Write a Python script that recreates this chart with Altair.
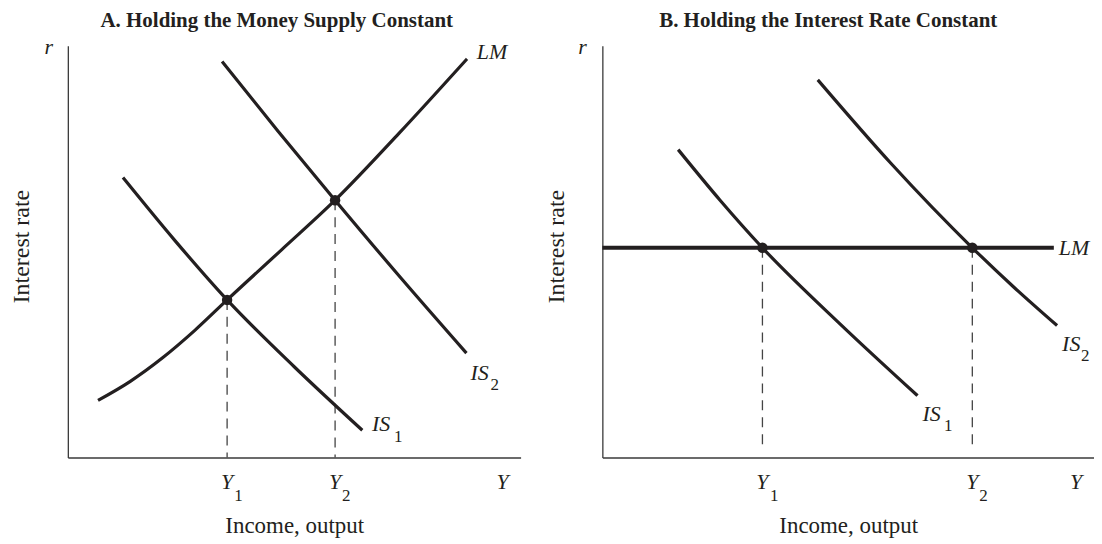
import altair as alt
import pandas as pd

FONT = "Liberation Serif"
INK = "#231f20"
AXIS_INK = "#3a3a3a"

# ---------------- Panel A: holding the money supply constant ----------------
A_LM_X = [6.67, 13.80, 20.93, 28.05, 35.18, 47.14, 59.03, 73.13, 88.17]
A_LM_Y = [13.87, 18.50, 24.21, 30.87, 38.26, 50.36, 62.47, 78.69, 96.78]
A_IS1_X = [12.18, 23.57, 35.18, 50.0, 65.04]
A_IS1_Y = [67.97, 52.78, 38.26, 22.03, 6.61]
A_IS2_X = [34.07, 46.48, 59.03, 73.57, 88.04]
A_IS2_Y = [96.13, 79.18, 62.47, 43.58, 25.35]
A_EQ_X = [35.18, 59.03]
A_EQ_Y = [38.26, 62.47]
A_DASH_END = [0.0, 0.0]

A_CURVE_TEXT = ["LM", "IS", "IS"]
A_CURVE_TX = [90.31, 88.92, 67.18]
A_CURVE_TY = [96.85, 18.89, 6.37]
A_SUB_TEXT = ["2", "1", "1", "2"]
A_SUB_TX = [93.33, 72.03, 36.78, 60.57]
A_SUB_TY = [16.46, 3.70, -10.65, -10.65]
A_AXIS_TEXT = ["r", "Y", "Y", "Y"]
A_AXIS_TX = [-4.19, 35.18, 59.03, 96.04]
A_AXIS_TY = [98.06, -7.75, -7.75, -7.75]

# ---------------- Panel B: holding the interest rate constant ----------------
B_LM_X = [0.0, 91.83]
B_LM_Y = [50.92, 50.92]
B_IS1_X = [15.42, 23.94, 32.56, 48.54, 64.10]
B_IS1_Y = [74.75, 62.47, 50.92, 32.20, 15.01]
B_IS2_X = [43.81, 58.68, 75.25, 83.77, 92.49]
B_IS2_Y = [91.69, 71.43, 50.92, 41.28, 32.03]
B_EQ_X = [32.56, 75.25]
B_EQ_Y = [50.92, 50.92]
B_DASH_END = [2.2, 2.2]

B_CURVE_TEXT = ["LM", "IS", "IS"]
B_CURVE_TX = [92.84, 93.51, 65.11]
B_CURVE_TY = [49.15, 25.74, 8.79]
B_SUB_TEXT = ["2", "1", "1", "2"]
B_SUB_TX = [97.36, 69.51, 34.08, 76.67]
B_SUB_TY = [23.32, 6.37, -10.65, -10.65]
B_AXIS_TEXT = ["r", "Y", "Y", "Y"]
B_AXIS_TX = [-4.06, 32.56, 75.25, 96.35]
B_AXIS_TY = [98.06, -7.75, -7.75, -7.75]

HEIGHT = 413

X_AXIS = alt.Axis(
    title="Income, output", labels=False, ticks=False, grid=False,
    domainColor=AXIS_INK, domainWidth=1.3,
    titleFont=FONT, titleFontSize=23, titleFontWeight="normal",
    titleColor=INK, titleBaseline="alphabetic", titleY=75,
)
Y_AXIS = alt.Axis(
    title="Interest rate", labels=False, ticks=False, grid=False,
    domainColor=AXIS_INK, domainWidth=1.3,
    titleFont=FONT, titleFontSize=24, titleFontWeight="normal",
    titleColor=INK, titleAngle=270, titleAlign="center",
    titleBaseline="middle", titleX=-46, titleY=201,
)


def xenc():
    return alt.X("x:Q", scale=alt.Scale(domain=[0, 100], nice=False, zero=False), axis=X_AXIS)


def yenc():
    return alt.Y("y:Q", scale=alt.Scale(domain=[0, 100], nice=False, zero=False), axis=Y_AXIS)


def curve_df(xs, ys, name):
    return pd.DataFrame({"x": xs, "y": ys, "curve": name, "i": list(range(len(xs)))})


def panel(title, dx, width, lm_x, lm_y, lm_w, is1_x, is1_y, is2_x, is2_y,
          eq_x, eq_y, dash_end, ct, ctx, cty, st, stx, sty, at, atx, aty):
    is_df = pd.concat([curve_df(is1_x, is1_y, "IS1"), curve_df(is2_x, is2_y, "IS2")])
    lm_df = curve_df(lm_x, lm_y, "LM")
    eq_df = pd.DataFrame({"x": eq_x, "y": eq_y, "y0": dash_end})
    curve_lbl = pd.DataFrame({"x": ctx, "y": cty, "t": ct})
    sub_lbl = pd.DataFrame({"x": stx, "y": sty, "t": st})
    axis_lbl = pd.DataFrame({"x": atx, "y": aty, "t": at})

    dashes = alt.Chart(eq_df).mark_rule(
        strokeDash=[10, 7], strokeWidth=1.3, color="#444444"
    ).encode(x=xenc(), y=yenc(), y2="y0:Q")

    is_lines = alt.Chart(is_df).mark_line(
        color=INK, strokeWidth=3.2, interpolate="monotone"
    ).encode(x=xenc(), y=yenc(), detail="curve:N", order="i:Q")

    lm_line = alt.Chart(lm_df).mark_line(
        color=INK, strokeWidth=lm_w, interpolate="monotone"
    ).encode(x=xenc(), y=yenc(), order="i:Q")

    points = alt.Chart(eq_df).mark_circle(size=110, color=INK, opacity=1).encode(
        x=xenc(), y=yenc()
    )

    curve_text = alt.Chart(curve_lbl).mark_text(
        font=FONT, fontSize=22, fontStyle="italic", align="left",
        baseline="alphabetic", color=INK
    ).encode(x=xenc(), y=yenc(), text="t:N")

    sub_text = alt.Chart(sub_lbl).mark_text(
        font=FONT, fontSize=17, align="left", baseline="alphabetic", color=INK
    ).encode(x=xenc(), y=yenc(), text="t:N")

    axis_text = alt.Chart(axis_lbl).mark_text(
        font=FONT, fontSize=22, fontStyle="italic", align="center",
        baseline="alphabetic", color=INK
    ).encode(x=xenc(), y=yenc(), text="t:N")

    return alt.layer(
        dashes, is_lines, lm_line, points, curve_text, sub_text, axis_text
    ).properties(
        width=width, height=HEIGHT,
        title=alt.Title(
            title, font=FONT, fontSize=21, fontWeight="bold", color=INK,
            anchor="middle", frame="group", dx=dx, offset=-12.5,
            baseline="alphabetic",
        ),
    )


panel_a = panel(
    "A. Holding the Money Supply Constant", -17.5, 454,
    A_LM_X, A_LM_Y, 3.2, A_IS1_X, A_IS1_Y, A_IS2_X, A_IS2_Y,
    A_EQ_X, A_EQ_Y, A_DASH_END,
    A_CURVE_TEXT, A_CURVE_TX, A_CURVE_TY,
    A_SUB_TEXT, A_SUB_TX, A_SUB_TY,
    A_AXIS_TEXT, A_AXIS_TX, A_AXIS_TY,
)

panel_b = panel(
    "B. Holding the Interest Rate Constant", -20, 493,
    B_LM_X, B_LM_Y, 3.8, B_IS1_X, B_IS1_Y, B_IS2_X, B_IS2_Y,
    B_EQ_X, B_EQ_Y, B_DASH_END,
    B_CURVE_TEXT, B_CURVE_TX, B_CURVE_TY,
    B_SUB_TEXT, B_SUB_TX, B_SUB_TY,
    B_AXIS_TEXT, B_AXIS_TX, B_AXIS_TY,
)

chart = alt.hconcat(panel_a, panel_b, spacing=82, bounds="flush").properties(
    padding={"left": 2, "top": 1, "right": 0, "bottom": 0}
).configure_view(stroke=None)

chart.save("out.html", embed_options={"renderer": "svg", "actions": False})
